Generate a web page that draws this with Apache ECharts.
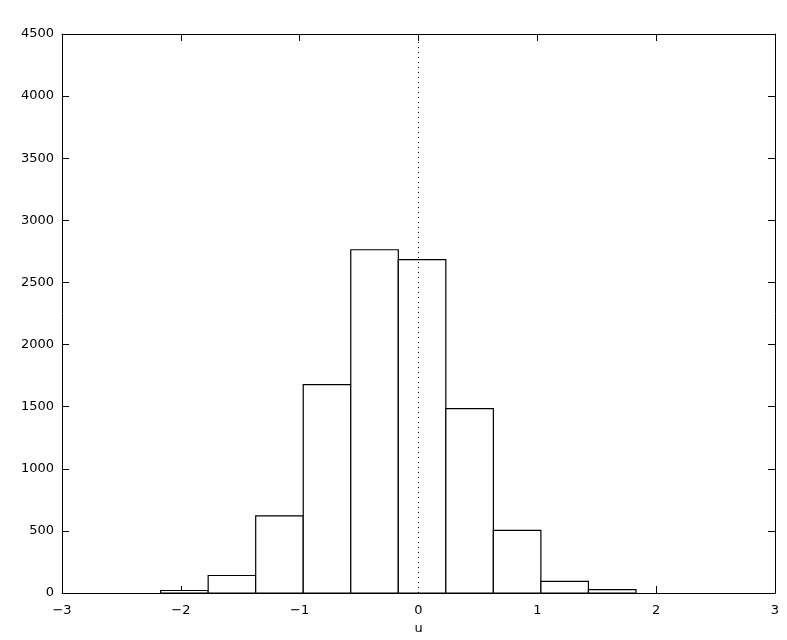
<!DOCTYPE html>
<html>
<head>
<meta charset="utf-8">
<title>hist u</title>
<script src="https://cdn.jsdelivr.net/npm/echarts@6/dist/echarts.min.js"></script>
<style>
  html, body { margin: 0; padding: 0; background: #fff; }
  #chart { width: 787px; height: 640px; }
</style>
</head>
<body>
<div id="chart"></div>
<script>
// histogram of u, 10 bins
var binEdges = [-2.17, -1.77, -1.37, -0.97, -0.57, -0.17, 0.23, 0.63, 1.03, 1.43, 1.83];
var counts = [20, 141, 621, 1678, 2763, 2683, 1484, 504, 93, 27];
var xTicks = [-3, -2, -1, 0, 1, 2, 3];
var yMax = 4500;

var bins = [];
for (var i = 0; i < counts.length; i++) {
    bins.push([binEdges[i], binEdges[i + 1], counts[i]]);
}

function minus(v) {
    return String(v).replace('-', '\u2212');
}

var font = 'DejaVu Sans, Liberation Sans, sans-serif';
var chart = echarts.init(document.getElementById('chart'));

var tickStyle = { show: true, inside: true, length: 7, lineStyle: { color: '#000', width: 1 } };
var lineStyle = { show: true, onZero: false, lineStyle: { color: '#000', width: 1 } };

chart.setOption({
    animation: false,
    grid: { left: 62, top: 34, right: 12, bottom: 44 },
    xAxis: [{
        type: 'value', min: xTicks[0], max: xTicks[xTicks.length - 1], interval: 1,
        name: 'u', nameLocation: 'middle', nameGap: 29,
        nameTextStyle: { color: '#000', fontSize: 13, fontFamily: font },
        axisLine: lineStyle, axisTick: tickStyle, splitLine: { show: false },
        axisLabel: { color: '#000', fontSize: 13, fontFamily: font, margin: 11, formatter: minus }
    }, {
        type: 'value', position: 'top', min: xTicks[0], max: xTicks[xTicks.length - 1], interval: 1,
        axisLine: lineStyle, axisTick: tickStyle, splitLine: { show: false },
        axisLabel: { show: false }
    }],
    yAxis: [{
        type: 'value', min: 0, max: yMax, interval: 500,
        axisLine: lineStyle, axisTick: tickStyle, splitLine: { show: false },
        axisLabel: { color: '#000', fontSize: 13, fontFamily: font, margin: 8, formatter: function (v) { return String(v); } }
    }, {
        type: 'value', position: 'right', min: 0, max: yMax, interval: 500,
        axisLine: lineStyle, axisTick: tickStyle, splitLine: { show: false },
        axisLabel: { show: false }
    }],
    series: [{
        type: 'custom',
        data: bins,
        encode: { x: [0, 1], y: 2 },
        renderItem: function (params, api) {
            var p0 = api.coord([api.value(0), api.value(2)]);
            var p1 = api.coord([api.value(1), 0]);
            return {
                type: 'rect',
                shape: { x: p0[0], y: p0[1], width: p1[0] - p0[0], height: p1[1] - p0[1] },
                style: { fill: '#fff', stroke: '#000', lineWidth: 1.2 }
            };
        },
        markLine: {
            silent: true,
            symbol: 'none',
            label: { show: false },
            lineStyle: { color: '#000', type: [1, 4], width: 1 },
            data: [{ xAxis: 0 }]
        },
        z: 2
    }]
});
</script>
</body>
</html>
